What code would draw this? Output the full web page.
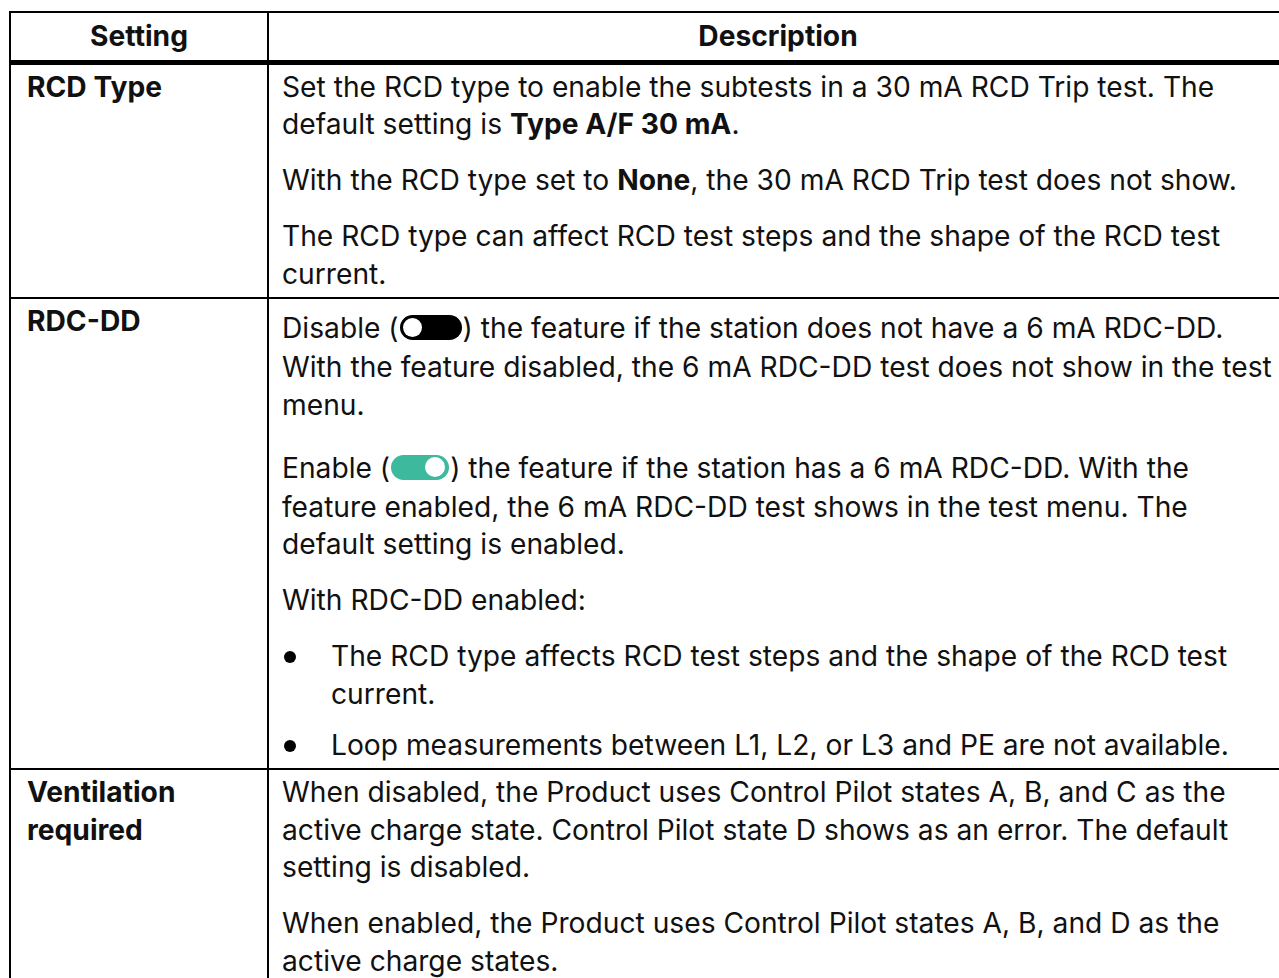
<!DOCTYPE html>
<html>
<head>
<meta charset="utf-8">
<script src="https://cdn.jsdelivr.net/npm/chart.js"></script>
<style>
  html, body { margin: 0; padding: 0; background: #fff; overflow: hidden; }
  body { width: 1279px; height: 978px; position: relative; font-family: Inter, "Noto Sans", sans-serif; color: #111; }
  table { position: absolute; left: 9px; top: 11px; width: 1280px; table-layout: fixed; border-collapse: collapse; font-size: 28.2px; line-height: 37.5px; }
  th, td { border: 2px solid #000; vertical-align: top; text-align: left; }
  th { font-weight: 700; text-align: center; padding: 5px 0 4px 0; border-bottom: 5px solid #000; }
  td.setting { padding: 4px 10px 4px 16px; font-weight: 700; }
  td.desc { padding: 4px 0 4px 13px; }
  p { margin: 0 0 18.5px 0; }
  p:last-child { margin-bottom: 0; }
  ul { margin: 0; padding: 0; list-style: none; }
  li { position: relative; padding-left: 49px; margin-bottom: 13.5px; }
  li:last-child { margin-bottom: 0; }
  li::before { content: ""; position: absolute; left: 2px; top: 13px; width: 12px; height: 12px; border-radius: 50%; background: #000; }
  .tog { display: inline-block; width: 60px; height: 25px; border-radius: 13px; vertical-align: -11px; margin: 12px 1px 9px 1px; position: relative; box-sizing: border-box; }
  .tog.off { background: #000; width: 62px; }
  .tog.on { background: #3dba9e; width: 58px; }
  .tog::after { content: ""; position: absolute; top: 3px; width: 19px; height: 19px; border-radius: 50%; box-sizing: border-box; }
  .tog.off::after { left: 3px; background: #fff; }
  .tog.on::after { right: 4px; background: #fff; top: 2.5px; width: 20px; height: 20px; }
</style>
</head>
<body>
<table id="tbl">
  <colgroup><col style="width:258px"><col></colgroup>
  <thead><tr><th id="h0"></th><th id="h1"></th></tr></thead>
  <tbody id="rows"></tbody>
</table>
<script>
const headers = ['Setting', 'Description'];
const settings = ['RCD Type', 'RDC-DD', 'Ventilation required'];
const descriptions = [
  [
    'Set the RCD type to enable the subtests in a 30 mA RCD Trip test. The default setting is <b>Type A/F 30 mA</b>.',
    'With the RCD type set to <b>None</b>, the 30 mA RCD Trip test does not show.',
    'The RCD type can affect RCD test steps and the shape of the RCD test current.'
  ],
  [
    'Disable ([off]) the feature if the station does not have a 6 mA RDC-DD. With the feature disabled, the 6 mA RDC-DD test does not show in the test menu.',
    'Enable ([on]) the feature if the station has a 6 mA RDC-DD. With the feature enabled, the 6 mA RDC-DD test shows in the test menu. The default setting is enabled.',
    'With RDC-DD enabled:',
    ['The RCD type affects RCD test steps and the shape of the RCD test current.',
     'Loop measurements between L1, L2, or L3 and PE are not available.']
  ],
  [
    'When disabled, the Product uses Control Pilot states A, B, and C as the active charge state. Control Pilot state D shows as an error. The default setting is disabled.',
    'When enabled, the Product uses Control Pilot states A, B, and D as the active charge states.'
  ]
];

document.getElementById('h0').textContent = headers[0];
document.getElementById('h1').textContent = headers[1];

function icons(s) {
  return s.replace('[off]', '<span class="tog off"></span>')
          .replace('[on]', '<span class="tog on"></span>');
}

const tbody = document.getElementById('rows');
settings.forEach((name, i) => {
  const tr = document.createElement('tr');
  const td0 = document.createElement('td');
  td0.className = 'setting';
  td0.textContent = name;
  const td1 = document.createElement('td');
  td1.className = 'desc';
  let html = '';
  descriptions[i].forEach(part => {
    if (Array.isArray(part)) {
      html += '<ul>' + part.map(t => '<li>' + t + '</li>').join('') + '</ul>';
    } else {
      html += '<p>' + icons(part) + '</p>';
    }
  });
  td1.innerHTML = html;
  tr.appendChild(td0);
  tr.appendChild(td1);
  tbody.appendChild(tr);
});
</script>
</body>
</html>
